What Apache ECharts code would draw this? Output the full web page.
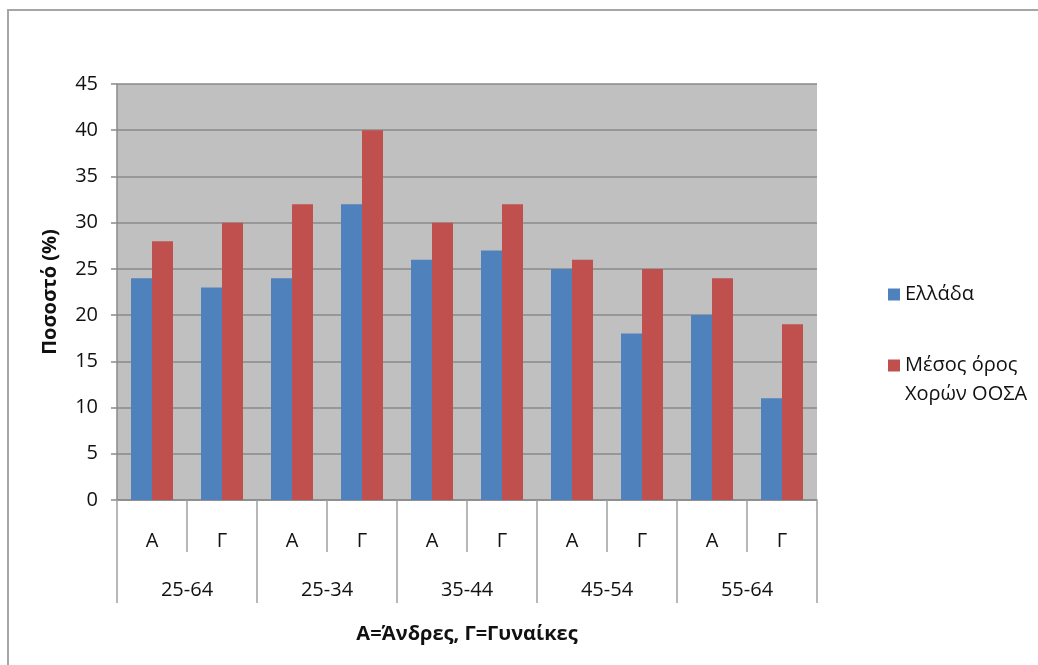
<!DOCTYPE html>
<html>
<head>
<meta charset="utf-8">
<script src="https://cdn.jsdelivr.net/npm/echarts@6/dist/echarts.min.js"></script>
<style>
  html, body { margin: 0; padding: 0; background: #ffffff; }
  #chart { width: 1038px; height: 665px; }
</style>
</head>
<body>
<div id="chart"></div>
<script>
// Sub-categories (A = men, Γ = women) and the age groups they belong to
const sexLabels = ['Α', 'Γ', 'Α', 'Γ', 'Α', 'Γ', 'Α', 'Γ', 'Α', 'Γ'];
const ageGroups = ['25-64', '25-34', '35-44', '45-54', '55-64'];

// Percentages per series
const seriesNames = ['Ελλάδα', 'Μέσος όρος\nΧορών ΟΟΣΑ'];
const greece = [24, 23, 24, 32, 26, 27, 25, 18, 20, 11];
const oecdAvg = [28, 30, 32, 40, 30, 32, 26, 25, 24, 19];

// Value axis ticks
const yMin = 0, yMax = 45, yStep = 5;

const FONT = '"Open Sans", "DejaVu Sans", sans-serif';
const TEXT = '#111111';
const LINE = '#8a8a8a';
const SIZE = 20;

const chart = echarts.init(document.getElementById('chart'), null, { renderer: 'canvas' });

chart.setOption({
  backgroundColor: '#ffffff',
  animation: false,
  textStyle: { fontFamily: FONT },
  graphic: [{
    type: 'rect',
    shape: { x: 8, y: 10, width: 1060, height: 700 },
    style: { fill: 'none', stroke: '#a6a6a6', lineWidth: 2 },
    silent: true,
    z: -1
  }],
  grid: {
    left: 117, right: 221, top: 84, bottom: 165,
    show: true, backgroundColor: '#c0c0c0', borderWidth: 0
  },
  legend: [{
    data: [seriesNames[0]],
    orient: 'vertical', left: 883, top: 275,
    icon: 'rect', itemWidth: 12, itemHeight: 12, itemGap: 0,
    selectedMode: false,
    textStyle: { fontFamily: FONT, fontSize: SIZE, color: TEXT, lineHeight: 29 }
  }, {
    data: [seriesNames[1]],
    orient: 'vertical', left: 883, top: 317,
    icon: 'rect', itemWidth: 12, itemHeight: 12, itemGap: 0,
    selectedMode: false,
    // blank first line keeps the marker level with "Μέσος όρος"
    formatter: name => '\n' + name,
    textStyle: { fontFamily: FONT, fontSize: SIZE, color: TEXT, lineHeight: 29 }
  }],
  xAxis: [{
    type: 'category',
    data: sexLabels,
    position: 'bottom',
    boundaryGap: true,
    axisLine: { show: true, lineStyle: { color: LINE, width: 1.5 } },
    axisTick: { show: true, interval: 0, length: 52, lineStyle: { color: '#a0a0a0', width: 1.5 } },
    axisLabel: { interval: 0, margin: 31, fontSize: SIZE, color: TEXT, fontFamily: FONT }
  }, {
    type: 'category',
    data: ageGroups,
    position: 'bottom',
    boundaryGap: true,
    axisLine: { show: false },
    axisTick: { show: true, interval: 0, length: 103, lineStyle: { color: '#a0a0a0', width: 1.5 } },
    axisLabel: { interval: 0, margin: 80, fontSize: SIZE, color: TEXT, fontFamily: FONT },
    name: 'Α=Άνδρες, Γ=Γυναίκες',
    nameLocation: 'middle',
    nameGap: 124,
    nameTextStyle: { fontSize: 20, fontWeight: 'bold', color: TEXT, fontFamily: FONT }
  }],
  yAxis: {
    type: 'value',
    min: yMin, max: yMax, interval: yStep,
    axisLine: { show: true, lineStyle: { color: LINE, width: 1.5 } },
    axisTick: { show: true, length: 6, lineStyle: { color: LINE, width: 1.5 } },
    splitLine: { show: true, lineStyle: { color: LINE, width: 1.5 } },
    axisLabel: { margin: 19, fontSize: SIZE, color: TEXT, fontFamily: FONT },
    name: 'Ποσοστό (%)',
    nameLocation: 'middle',
    nameGap: 57,
    nameTextStyle: { fontSize: 20, fontWeight: 'bold', color: TEXT, fontFamily: FONT }
  },
  series: [{
    name: seriesNames[0],
    type: 'bar',
    data: greece,
    xAxisIndex: 0,
    barGap: '0%',
    barCategoryGap: '40%',
    itemStyle: { color: '#4f81bd' }
  }, {
    name: seriesNames[1],
    type: 'bar',
    data: oecdAvg,
    xAxisIndex: 0,
    barGap: '0%',
    barCategoryGap: '40%',
    itemStyle: { color: '#c0504d' }
  }]
});
</script>
</body>
</html>
